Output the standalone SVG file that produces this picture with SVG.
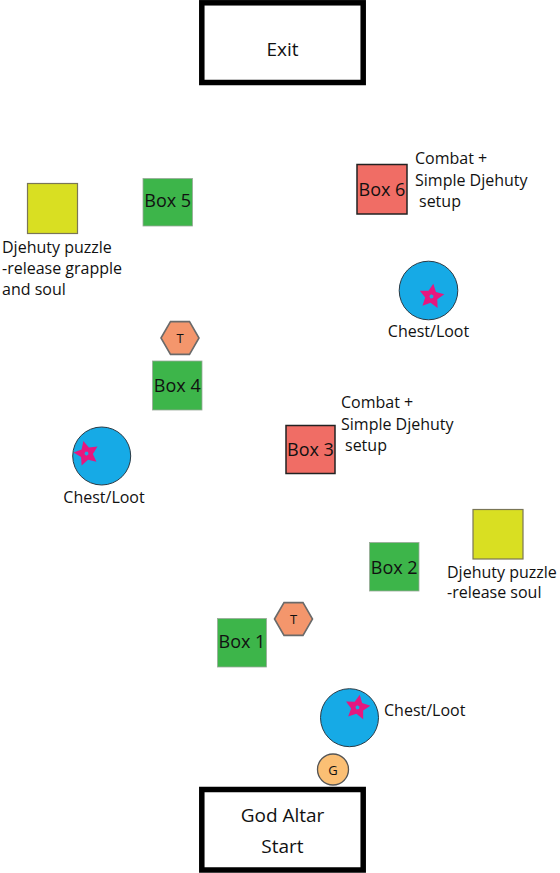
<svg xmlns="http://www.w3.org/2000/svg" xmlns:xlink="http://www.w3.org/1999/xlink" width="560" height="873" viewBox="0 0 560 873">
<style>
text{font-family:"Open Sans","Noto Sans","Liberation Sans",sans-serif;fill:#111}
.big{font-size:19px;text-anchor:middle}
.box{font-size:18px;text-anchor:middle}
.lbl{font-size:16px}
.end{stroke:#000;stroke-width:5.5;fill:#fff}
.green{fill:#3db54a;stroke:#9aa89a;stroke-width:0.8}
.red{fill:#f06d65;stroke:#222;stroke-width:1.5}
.yellow{fill:#d9df22;stroke:#7a7656;stroke-width:1.2}
.chest{fill:#16aae6;stroke:#2a3a45;stroke-width:1}
.star{fill:#e6177f;fill-rule:evenodd}
.hex{fill:#f4966c;stroke:#6a6a6a;stroke-width:1.6}
.small{font-size:13px;text-anchor:middle}
</style>
<defs>
<path id="star" d="M0,-13 L3.76,-5.18 L12.36,-4.02 L6.09,1.98 L7.64,10.52 L0,6.4 L-7.64,10.52 L-6.09,1.98 L-12.36,-4.02 L-3.76,-5.18 Z M-2.2,0 L-0.7,-2.1 L1.8,-1.3 L1.8,1.3 L-0.7,2.1 Z"/>
<polygon id="hex" points="-19,0 -9.5,-16.4 9.5,-16.4 19,0 9.5,16.4 -9.5,16.4"/>
</defs>
<g id="connectors"></g>
<g id="exit">
<rect class="end" x="201.8" y="2.8" width="161.4" height="79.7"/>
<text class="big" x="282.5" y="56">Exit</text>
</g>
<g id="box6">
<rect class="red" x="357" y="164.5" width="50" height="49.5"/>
<text class="box" x="382" y="195.5">Box 6</text>
<text class="lbl" x="415" y="164">Combat +</text>
<text class="lbl" x="415" y="186">Simple Djehuty</text>
<text class="lbl" x="419" y="207"> setup</text>
</g>
<g id="box5">
<rect class="green" x="143" y="178.5" width="49.5" height="47.5"/>
<text class="box" x="167.7" y="207">Box 5</text>
</g>
<g id="puzzle1">
<rect class="yellow" x="27.5" y="183.5" width="50" height="50"/>
<text class="lbl" x="2" y="253">Djehuty puzzle</text>
<text class="lbl" x="2" y="274">-release grapple</text>
<text class="lbl" x="2" y="295">and soul</text>
</g>
<g id="chest1">
<circle class="chest" cx="428.5" cy="290.5" r="29.3"/>
<use xlink:href="#star" class="star" transform="translate(431.5,296.5) rotate(8)"/>
<text class="lbl" x="428.5" y="337" text-anchor="middle">Chest/Loot</text>
</g>
<g id="trap1">
<use xlink:href="#hex" class="hex" transform="translate(180,338)"/>
<text class="small" x="180" y="343">T</text>
</g>
<g id="box4">
<rect class="green" x="152.5" y="361" width="49.5" height="49"/>
<text class="box" x="177.3" y="391.5">Box 4</text>
</g>
<g id="box3">
<rect class="red" x="286" y="425.5" width="49" height="48"/>
<text class="box" x="310.5" y="455.5">Box 3</text>
<text class="lbl" x="341" y="408">Combat +</text>
<text class="lbl" x="341" y="430">Simple Djehuty</text>
<text class="lbl" x="345" y="451"> setup</text>
</g>
<g id="chest2">
<circle class="chest" cx="101.7" cy="456" r="29"/>
<use xlink:href="#star" class="star" transform="translate(86.5,453.5) rotate(-14)"/>
<text class="lbl" x="104" y="503" text-anchor="middle">Chest/Loot</text>
</g>
<g id="puzzle2">
<rect class="yellow" x="473" y="509.5" width="50" height="49.5"/>
<text class="lbl" x="447" y="578">Djehuty puzzle</text>
<text class="lbl" x="447" y="598">-release soul</text>
</g>
<g id="box2">
<rect class="green" x="369.5" y="542.5" width="49.5" height="48.5"/>
<text class="box" x="394.2" y="573.5">Box 2</text>
</g>
<g id="trap2">
<use xlink:href="#hex" class="hex" transform="translate(293.5,619)"/>
<text class="small" x="293.5" y="624">T</text>
</g>
<g id="box1">
<rect class="green" x="217.5" y="618.5" width="49" height="48.5"/>
<text class="box" x="242" y="648">Box 1</text>
</g>
<g id="chest3">
<circle class="chest" cx="349.5" cy="717.7" r="29"/>
<use xlink:href="#star" class="star" transform="translate(357.5,707.5) rotate(10)"/>
<text class="lbl" x="384" y="716">Chest/Loot</text>
</g>
<g id="god">
<circle cx="333" cy="769.5" r="15.5" fill="#fbbf74" stroke="#555" stroke-width="1.3"/>
<text class="small" x="333" y="774.5">G</text>
</g>
<g id="start">
<rect class="end" x="201.8" y="789.5" width="161.4" height="80.5"/>
<text class="big" x="282.5" y="822">God Altar</text>
<text class="big" x="282.5" y="853">Start</text>
</g>
</svg>
